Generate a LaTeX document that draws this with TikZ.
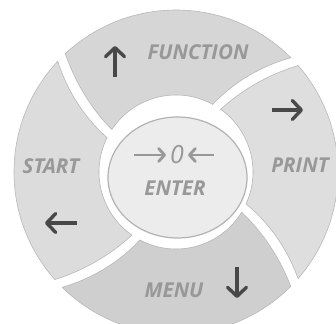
\documentclass[tikz,border=0pt]{standalone}
\usepackage{fontspec}
\newfontfamily\keyfont{Open Sans}
\usetikzlibrary{arrows.meta}

\definecolor{segtopgray}{RGB}{214,214,214}
\definecolor{segrightgray}{RGB}{222,222,222}
\definecolor{segbottomgray}{RGB}{207,207,207}
\definecolor{segleftgray}{RGB}{220,220,220}
\definecolor{discgray}{RGB}{236,236,236}
\definecolor{labelgray}{RGB}{152,152,152}
\definecolor{arrowdark}{RGB}{72,72,72}

\tikzset{
  segtop/.style={fill=segtopgray,draw=black!28,line width=0.6pt},
  segright/.style={fill=segrightgray,draw=black!28,line width=0.6pt},
  segbottom/.style={fill=segbottomgray,draw=black!28,line width=0.6pt},
  segleft/.style={fill=segleftgray,draw=black!28,line width=0.6pt},
  keylabel/.style={text=labelgray,inner sep=0pt,font=\keyfont\bfseries\itshape\fontsize{20.5}{20.5}\selectfont},
  keyarrow/.style={draw=arrowdark,line width=3.4pt,-{Straight Barb[length=9pt,width=19pt,round]}},
  zeroarrow/.style={draw=labelgray,line width=2.8pt,-{Straight Barb[length=6pt,width=13pt,round]}}
}

\begin{document}
\begin{tikzpicture}[x=1pt,y=1pt]
    \useasboundingbox[fill=white] (-176,-151) rectangle (160,172);

    \foreach \a/\b/\c in {43/135/segtop,-43/43/segright,-136.5/-43/segbottom,135/223.5/segleft}
    \filldraw[\c] ({\a+1.9}:162) arc[start angle=\a+1.9,end angle=\b-1.9,radius=162]
        -- plot[domain=0:1,samples=14] ({\b-1.9+13.4*\x}:{162-85*\x})
        arc[start angle=\b+11.5,end angle=\a+18.5,radius=77]
        -- plot[domain=1:0,samples=14] ({\a+1.9+16.6*\x}:{162-85*\x})
        -- cycle;

    \filldraw[fill=discgray,draw=black!30,line width=1.2pt] (1.5,-5.5) ellipse[x radius=69.5,y radius=60.5];

    \draw (22,120) node[keylabel] (func) {FUNCTION};
    \draw (124,7) node[keylabel] (print) {PRINT};
    \draw (-2,-118) node[keylabel] (menu) {MENU};
    \draw (-125,6) node[keylabel] (start) {START};
    \draw (1,17) node[keylabel,font=\keyfont\itshape\fontsize{25}{25}\selectfont] (zero) {0};
    \draw (-1,-16) node[keylabel] (enter) {ENTER};

    \draw[keyarrow] (-61,95) -- (-61,126);
    \draw[keyarrow] (96,62) -- (127,62);
    \draw[keyarrow] (61,-95) -- (61,-126);
    \draw[keyarrow] (-99,-51) -- (-131,-51);

    \draw[zeroarrow] (-42,17) -- (-10,17);
    \draw[zeroarrow] (38,17) -- (12,17);
\end{tikzpicture}
\end{document}
